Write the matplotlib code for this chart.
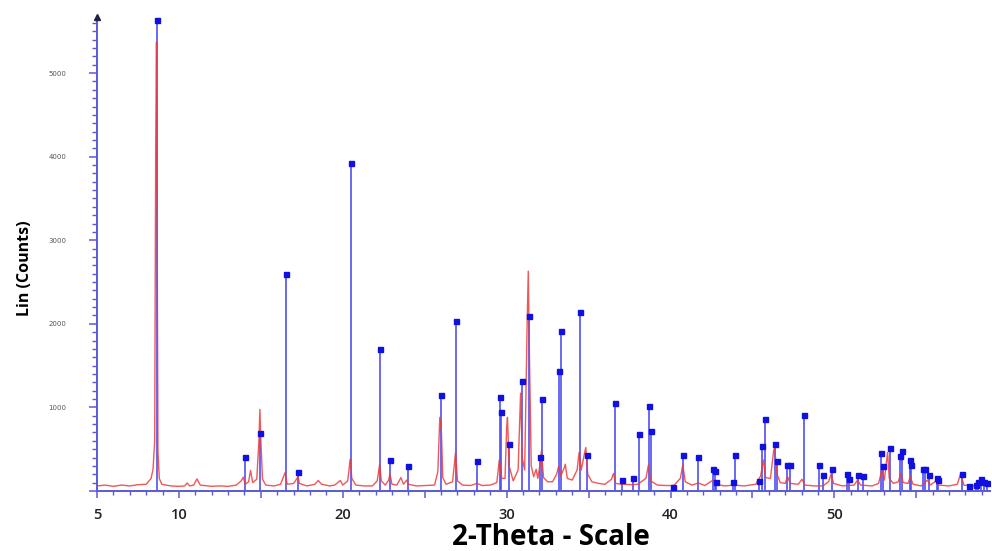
import matplotlib
matplotlib.use("Agg")
from matplotlib import pyplot as plt
from matplotlib.ticker import MultipleLocator, FixedLocator

trace_x = [5.0, 5.5, 6.0, 6.5, 7.0, 7.5, 8.0, 8.3, 8.42, 8.52, 8.58, 8.63, 8.68, 8.72, 8.8, 8.95,
           9.5, 10.0, 10.35, 10.5, 10.65, 10.9, 11.1, 11.3, 12.0, 12.5, 13.0, 13.5, 13.8, 13.92, 14.05,
           14.25, 14.37, 14.5, 14.75, 14.88, 14.94, 15.0, 15.1, 15.3, 15.8, 16.2, 16.4, 16.48, 16.6,
           17.0, 17.2, 17.27, 17.35, 17.8, 18.3, 18.5, 18.7, 19.2, 19.5, 19.85, 20.0, 20.3, 20.45,
           20.55, 20.8, 21.3, 21.8, 22.1, 22.25, 22.35, 22.6, 22.8, 22.88, 23.0, 23.3, 23.55, 23.7,
           23.9, 24.0, 24.5, 25.0, 25.6, 25.8, 25.92, 26.02, 26.1, 26.3, 26.7, 26.88, 27.0, 27.3,
           27.8, 28.2, 28.5, 29.0, 29.4, 29.55, 29.7, 29.9, 30.0, 30.05, 30.15, 30.4, 30.7, 30.85,
           30.95, 31.1, 31.25, 31.32, 31.4, 31.5, 31.65, 31.8, 31.9, 32.05, 32.12, 32.25, 32.5, 32.8,
           33.05, 33.18, 33.3, 33.5, 33.58, 33.7, 34.0, 34.3, 34.42, 34.55, 34.75, 34.83, 34.95,
           35.2, 35.6, 36.0, 36.4, 36.52, 36.65, 37.0, 37.7, 38.0, 38.5, 38.65, 38.78, 39.2, 39.7,
           40.2, 40.6, 40.75, 40.9, 41.3, 41.7, 42.1, 42.6, 42.75, 43.3, 43.9, 44.5, 45.2, 45.5,
           45.67, 45.8, 46.1, 46.3, 46.36, 46.5, 46.7, 47.0, 47.15, 47.3, 47.8, 48.02, 48.2, 48.8,
           49.3, 49.65, 49.8, 49.95, 50.5, 51.2, 51.42, 51.6, 52.3, 52.7, 52.9, 53.05, 53.15, 53.25,
           53.35, 53.6, 53.9, 54.06, 54.2, 54.5, 54.63, 54.8, 55.3, 55.69, 55.85, 56.2, 56.35, 57.0,
           57.5, 57.72, 57.9, 58.5, 59.0, 59.2, 59.5]
trace_y = [60, 70, 55, 70, 60, 75, 80, 150, 260, 600, 4100, 5370, 2680, 470, 150, 80,
           60, 55, 60, 95, 60, 70, 145, 70, 55, 60, 55, 70, 120, 165, 80,
           110, 245, 100, 140, 600, 975, 600, 140, 70, 60, 80, 180, 220, 80,
           90, 150, 170, 90, 60, 80, 125, 80, 60, 70, 125, 70, 120, 380,
           150, 70, 60, 60, 120, 320, 120, 70, 130, 205, 80, 70, 160, 80,
           130, 80, 60, 65, 70, 230, 880, 700, 160, 80, 110, 460, 120, 70,
           65, 90, 65, 70, 100, 370, 150, 150, 760, 880, 300, 120, 250, 1170,
           400, 250, 2000, 2630, 1500, 300, 170, 260, 150, 330, 480, 160, 110, 110,
           200, 300, 180, 270, 320, 150, 130, 250, 460, 250, 450, 520, 200,
           110, 90, 80, 140, 210, 90, 80, 75, 80, 150, 310, 120, 70, 65,
           65, 150, 310, 110, 70, 95, 65, 130, 80, 60, 70, 60, 80, 180,
           370, 160, 150, 490, 510, 200, 100, 90, 170, 90, 80, 140, 70, 60,
           60, 110, 200, 90, 60, 70, 130, 70, 60, 90, 250, 130, 300, 460,
           150, 90, 110, 210, 100, 90, 170, 80, 60, 130, 70, 120, 70, 60,
           80, 210, 70, 60, 90, 100, 70]

# reference card lines
stick_pos = [8.66, 14.02, 14.94, 16.52, 17.26, 20.49, 22.26, 22.88, 23.96, 25.99, 26.89, 28.19,
             29.57, 29.65, 30.12, 30.93, 31.36, 32.03, 32.15, 33.21, 33.33, 34.47, 34.90, 36.60,
             37.03, 37.74, 38.07, 38.70, 38.80, 40.14, 40.79, 41.69, 42.58, 42.72, 42.78, 43.80,
             43.92, 45.43, 45.59, 45.75, 46.38, 46.48, 47.13, 47.30, 48.13, 49.06, 49.29, 49.84,
             50.77, 50.89, 51.46, 51.77, 52.87, 52.99, 53.40, 54.02, 54.15, 54.59, 54.70, 55.41,
             55.51, 55.78, 56.24, 56.34, 57.76, 58.23, 58.64, 58.78, 58.98, 59.15, 59.29]
stick_h = [5630, 407, 694, 2595, 227, 3923, 1698, 367, 303, 1144, 2033, 363,
           1120, 948, 566, 1316, 2093, 403, 1104, 1439, 1910, 2141, 434, 1049,
           128, 159, 682, 1017, 721, 51, 434, 407, 260, 239, 111, 111,
           434, 123, 538, 857, 562, 362, 311, 311, 913, 311, 191, 260,
           199, 140, 191, 183, 454, 299, 510, 422, 482, 371, 311, 260,
           260, 191, 159, 132, 199, 60, 75, 111, 140, 111, 92]

x_major = [5, 10, 15, 20, 25, 30, 35, 40, 45, 50, 55]
x_labels = ["5", "10", "", "20", "", "30", "", "40", "", "50", ""]
y_major = [0, 1000, 2000, 3000, 4000, 5000]
y_labels = ["", "1000", "2000", "3000", "4000", "5000"]

axis_blue = "#5a5ad6"

fig = plt.figure(figsize=(9.92, 5.51), dpi=100)
ax = fig.add_axes([0.0978, 0.109, 0.9002, 0.86])

ax.vlines(stick_pos, 0, stick_h, color="#5050f0", linewidth=1.2, zorder=2)
ax.plot(stick_pos, stick_h, linestyle="none", marker="s", markersize=3.6,
        color="#1010e0", zorder=4)
ax.plot(trace_x, trace_y, color="#ee3a3a", linewidth=1.0, alpha=0.85, zorder=3)

ax.set_xlim(5, 59.5)
ax.set_ylim(0, 5670)

for s in ["top", "right"]:
    ax.spines[s].set_visible(False)
for s in ["left", "bottom"]:
    ax.spines[s].set_color(axis_blue)
    ax.spines[s].set_linewidth(1.4)

# arrow head on the y axis
ax.plot([5], [5670], marker="^", color="#222244", markersize=5, clip_on=False, zorder=5)

ax.xaxis.set_major_locator(FixedLocator(x_major))
ax.set_xticklabels(x_labels)
ax.xaxis.set_minor_locator(MultipleLocator(1))
ax.set_yticks(y_major)
ax.set_yticklabels(y_labels)
ax.yaxis.set_minor_locator(MultipleLocator(100))

ax.tick_params(axis="x", which="major", length=5, width=1.1, color=axis_blue,
               pad=7, labelsize=10.5)
ax.tick_params(axis="x", which="minor", length=3, width=1.0, color=axis_blue)
ax.tick_params(axis="y", which="major", length=6, width=1.1, color=axis_blue,
               pad=16, labelsize=5, labelcolor="#555555")
ax.tick_params(axis="y", which="minor", length=3.5, width=1.0, color=axis_blue)
for t in ax.get_xticklabels():
    t.set_fontfamily("Open Sans")
    t.set_fontweight("semibold")
    t.set_color("#222222")

ax.set_xlabel("2-Theta - Scale", fontsize=20, fontweight="bold", family="Open Sans")
ax.xaxis.label.set_va("baseline")
ax.xaxis.set_label_coords(0.508, -0.114)
ax.set_ylabel("Lin (Counts)", fontsize=11.5, fontweight="bold", family="Open Sans")
ax.yaxis.set_label_coords(-0.072, 0.47)

fig.savefig("out.png", dpi=100)
